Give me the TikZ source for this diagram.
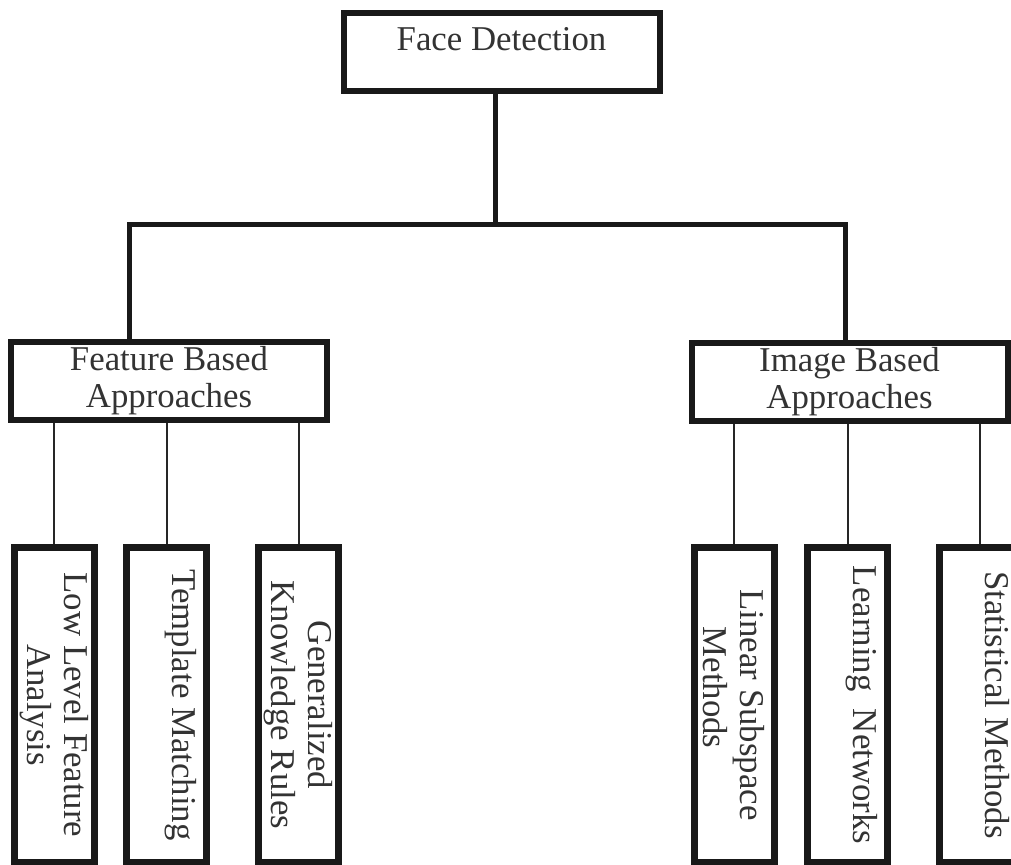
\documentclass[tikz,border=0pt]{standalone}
\usepackage{fontspec}
\setmainfont{Liberation Serif}
\usetikzlibrary{positioning, calc}
\tikzstyle{rootbox} = [rectangle, draw=black!90, line width=3pt, minimum width=158pt, minimum height=39pt, text=black!80, font=\fontsize{17.4pt}{18.5pt}\selectfont, text height=12pt, text depth=14pt]
\tikzstyle{approach} = [rectangle, draw=black!90, line width=3pt, minimum width=158pt, minimum height=39pt, inner sep=1pt, align=center, text=black!80, font=\fontsize{17.4pt}{18.5pt}\selectfont]
\tikzstyle{methodbox} = [rectangle, draw=black!90, line width=3.5pt, rotate=-90, minimum width=157.5pt, minimum height=40pt, inner sep=1pt, align=center, text=black!80, font=\fontsize{17.4pt}{18.5pt}\selectfont]
\tikzstyle{trunk} = [draw=black!90, line width=2.5pt]
\tikzstyle{twig} = [draw=black!85, line width=1pt]

\begin{document}
\begin{tikzpicture}[x=0.5pt, y=-0.5pt]
    \path[use as bounding box, clip] (0,0) rectangle (1011,864);

    \node (detect) [rootbox] at (501.5,52) {Face Detection};
    \node (feature) [approach] at (169,381) {Feature Based\\Approaches};
    \node (image) [approach] at (849.5,382) {Image Based\\Approaches};

    \node (lowlevel) [methodbox] at (54,705) {Low Level Feature\\Analysis};
    \node (template) [methodbox] at (166.5,705) {Template Matching\\~};
    \node (knowledge) [methodbox] at (298.5,705) {Generalized\\Knowledge Rules};
    \node (linear) [methodbox] at (734,705) {Linear Subspace\\Methods\hspace*{1em}};
    \node (learning) [methodbox] at (847.5,705) {Learning\ \ Networks\\~};
    \node (statistical) [methodbox] at (979.5,705) {Statistical Methods\\~};

    \coordinate (hub) at (495,224.5);
    \coordinate (lcorner) at (129.5,224.5);
    \coordinate (rcorner) at (845,224.5);

    \draw [trunk] (detect.south -| hub) -- (hub);
    \draw [trunk] (lcorner |- feature.north) -- (lcorner) -- (rcorner) -- (rcorner |- image.north);

    \draw [twig] (feature.south -| lowlevel) -- (lowlevel);
    \draw [twig] (feature.south -| template) -- (template);
    \draw [twig] (feature.south -| knowledge) -- (knowledge);
    \draw [twig] (image.south -| linear) -- (linear);
    \draw [twig] (image.south -| learning) -- (learning);
    \draw [twig] (image.south -| statistical) -- (statistical);
\end{tikzpicture}
\end{document}
